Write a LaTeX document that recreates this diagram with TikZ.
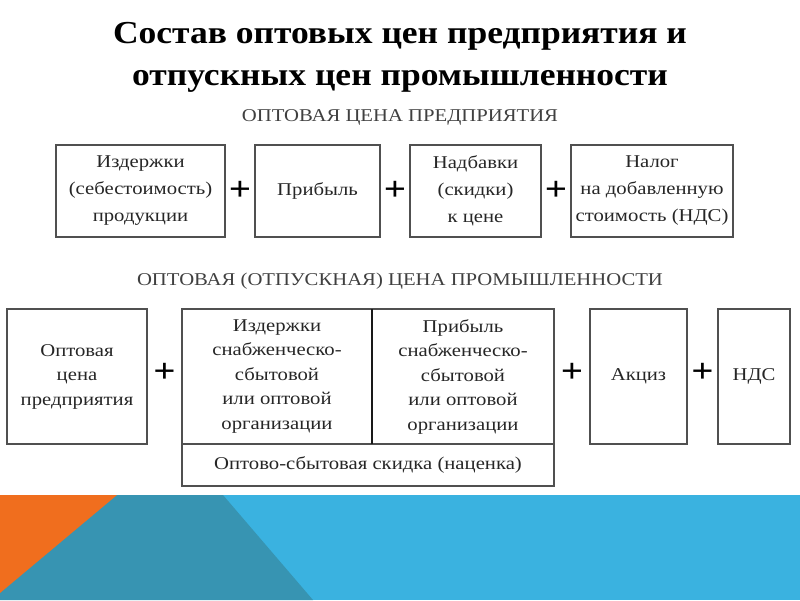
\documentclass[tikz,border=0pt]{standalone}
\usepackage{fontspec}
\setmainfont{Liberation Serif}[FakeStretch=1.15]
\newfontfamily\titlefont{Liberation Serif}[FakeStretch=1.11]
\usetikzlibrary{positioning,calc}
\definecolor{bandorange}{RGB}{240,110,30}
\definecolor{bandteal}{RGB}{55,148,178}
\definecolor{bandblue}{RGB}{58,178,224}
\definecolor{boxline}{RGB}{80,80,80}
\tikzset{
  pricebox/.style={draw=boxline, line width=1.1pt, align=center, inner sep=2pt,
                   outer sep=0pt, text=black!85,
                   font=\fontsize{18}{27}\selectfont},
  pricebox2/.style={pricebox, font=\fontsize{18}{24.5}\selectfont,
                    minimum height=135pt},
  plussign/.style={font=\fontsize{34}{34}\selectfont\bfseries, inner sep=0pt},
  capline/.style={font=\fontsize{18}{18}\selectfont, text=black!75}
}

\begin{document}
\begin{tikzpicture}[x=1pt, y=-1pt, node distance=30pt]
  \useasboundingbox (0,0) rectangle (800,600);

  % bottom band
  \fill[bandblue] (0,495) rectangle (800,600);
  \fill[bandteal] (0,495) -- (223,495) -- (313,600) -- (0,600) -- cycle;
  \fill[bandorange] (0,495) -- (117,495) -- (0,593) -- cycle;

  % title
  \node[font=\titlefont\fontsize{32}{42}\selectfont\bfseries, align=center,
        anchor=base] (title)
    at (400,85) {Состав оптовых цен предприятия и\\отпускных цен промышленности};

  % first row
  \node[capline] (cap1) at (400,117) {ОПТОВАЯ ЦЕНА ПРЕДПРИЯТИЯ};

  \node[pricebox, minimum width=169pt, minimum height=92pt] (izd) at (140.5,191)
    {Издержки\\(себестоимость)\\продукции};
  \node[pricebox, minimum width=125pt, minimum height=92pt, right=of izd] (prib)
    {Прибыль};
  \node[pricebox, minimum width=131pt, minimum height=92pt, right=of prib] (nadb)
    {Надбавки\\(скидки)\\к цене};
  \node[pricebox, minimum width=162pt, minimum height=92pt, right=of nadb] (nds1)
    {Налог\\на добавленную\\стоимость (НДС)};

  \node[plussign] (p1) at ($(izd.east)!.5!(prib.west)$) {+};
  \node[plussign] (p2) at ($(prib.east)!.5!(nadb.west)$) {+};
  \node[plussign] (p3) at ($(nadb.east)!.5!(nds1.west)$) {+};

  % second row
  \node[capline] (cap2) at (400,281) {ОПТОВАЯ (ОТПУСКНАЯ) ЦЕНА ПРОМЫШЛЕННОСТИ};

  \node[pricebox2, minimum width=140pt] (optc) at (77,376.5)
    {Оптовая\\цена\\предприятия};
  \node[pricebox2, minimum width=190pt, right=35pt of optc] (izdsb)
    {Издержки\\снабженческо-\\сбытовой\\или оптовой\\организации};
  \node[pricebox2, minimum width=182pt, right=0pt of izdsb] (pribsb)
    {Прибыль\\снабженческо-\\сбытовой\\или оптовой\\организации};
  \node[pricebox, minimum width=372pt, minimum height=42pt, anchor=north west]
    (skid) at (izdsb.south west) {Оптово-сбытовая скидка (наценка)};
  \draw[line width=2pt, black!90] (izdsb.north east) -- (izdsb.south east);

  \node[pricebox2, minimum width=97pt, right=36pt of pribsb] (akc) {Акциз};
  \node[pricebox2, minimum width=72pt, right=31pt of akc] (nds2) {НДС};

  \node[plussign, yshift=4pt] (p4) at ($(optc.east)!.5!(izdsb.west)$) {+};
  \node[plussign, yshift=4pt] (p5) at ($(pribsb.east)!.5!(akc.west)$) {+};
  \node[plussign, yshift=4pt] (p6) at ($(akc.east)!.5!(nds2.west)$) {+};
\end{tikzpicture}
\end{document}
